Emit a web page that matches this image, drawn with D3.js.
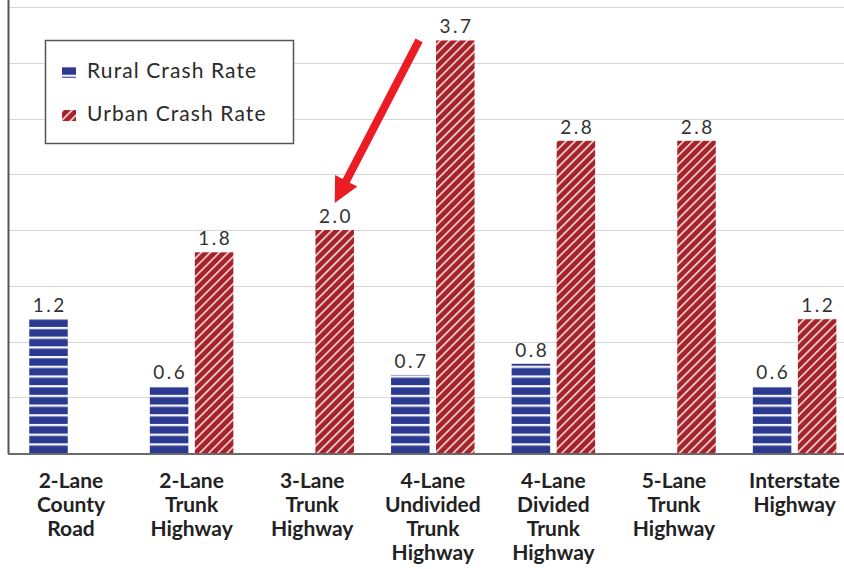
<!DOCTYPE html>
<html>
<head>
<meta charset="utf-8">
<script src="https://cdn.jsdelivr.net/npm/d3@7"></script>
<style>
  body { margin: 0; background: #fff; }
  svg { display: block; }
</style>
</head>
<body>
<script>
// crash rate by road type, rural vs urban
const categories = ["2-Lane County Road", "2-Lane Trunk Highway", "3-Lane Trunk Highway",
  "4-Lane Undivided Trunk Highway", "4-Lane Divided Trunk Highway", "5-Lane Trunk Highway", "Interstate Highway"];
const categoryLines = [
  ["2-Lane", "County", "Road"],
  ["2-Lane", "Trunk", "Highway"],
  ["3-Lane", "Trunk", "Highway"],
  ["4-Lane", "Undivided", "Trunk", "Highway"],
  ["4-Lane", "Divided", "Trunk", "Highway"],
  ["5-Lane", "Trunk", "Highway"],
  ["Interstate", "Highway"]
];
const seriesNames = ["Rural Crash Rate", "Urban Crash Rate"];
const ruralRates = [1.2, 0.6, null, 0.7, 0.8, null, 0.6];
const urbanRates = [null, 1.8, 2.0, 3.7, 2.8, 2.8, 1.2];
const gridValues = [0.5, 1, 1.5, 2, 2.5, 3, 3.5, 4];

const width = 844, height = 569;
const blue = "#2c3991", red = "#a5232d";

const svg = d3.select("body").append("svg")
  .attr("width", width)
  .attr("height", height);

const x = d3.scaleBand().domain(categories).range([10.7, 854.9]).padding(0);
const sub = d3.scaleBand().domain(["rural", "urban"]).range([-41.75, 41.75]).paddingInner(0.1444);
const y = d3.scaleLinear().domain([0, 4]).range([453, 7]);

// stripe patterns
const defs = svg.append("defs");
const rp = defs.append("pattern")
  .attr("id", "rural-stripes")
  .attr("patternUnits", "userSpaceOnUse")
  .attr("width", 10).attr("height", 9.7)
  .attr("y", y(0));
rp.append("rect").attr("width", 10).attr("height", 9.7).attr("fill", blue);
rp.append("rect").attr("width", 10).attr("height", 2.3).attr("fill", "#f4f4fa");

const up = defs.append("pattern")
  .attr("id", "urban-stripes")
  .attr("patternUnits", "userSpaceOnUse")
  .attr("width", 6.4).attr("height", 6.4)
  .attr("patternTransform", "rotate(45)");
up.append("rect").attr("width", 6.4).attr("height", 6.4).attr("fill", red);
up.append("rect").attr("width", 1.6).attr("height", 6.4).attr("fill", "#f6ddd6");

// gridlines
svg.append("g")
  .selectAll("line")
  .data(gridValues)
  .enter().append("line")
  .attr("x1", 8).attr("x2", width)
  .attr("y1", d => Math.round(y(d)) + 0.5)
  .attr("y2", d => Math.round(y(d)) + 0.5)
  .attr("stroke", "#d6d6d6")
  .attr("stroke-width", 1);

// bars
const barData = [];
categories.forEach((c, i) => {
  if (ruralRates[i] != null) barData.push({ cat: c, key: "rural", value: ruralRates[i] });
  if (urbanRates[i] != null) barData.push({ cat: c, key: "urban", value: urbanRates[i] });
});
const barX = d => x(d.cat) + x.bandwidth() / 2 + sub(d.key);

svg.append("g")
  .selectAll("rect")
  .data(barData)
  .enter().append("rect")
  .attr("x", barX)
  .attr("y", d => y(d.value))
  .attr("width", sub.bandwidth())
  .attr("height", d => y(0) - y(d.value))
  .attr("fill", d => d.key === "rural" ? "url(#rural-stripes)" : "url(#urban-stripes)");

// value labels
const valueSpacing = 2.5;
svg.append("g")
  .selectAll("text")
  .data(barData)
  .enter().append("text")
  .attr("x", d => barX(d) + sub.bandwidth() / 2)
  .attr("y", d => y(d.value) - 7)
  .attr("dx", valueSpacing / 2)
  .attr("text-anchor", "middle")
  .attr("font-family", "Lato, sans-serif")
  .attr("font-size", 19)
  .attr("letter-spacing", valueSpacing)
  .attr("fill", "#333")
  .text(d => d3.format(".1f")(d.value));

// axes lines
svg.append("line")
  .attr("x1", 8.5).attr("x2", 8.5)
  .attr("y1", 0).attr("y2", y(0) + 1)
  .attr("stroke", "#555").attr("stroke-width", 2);
svg.append("line")
  .attr("x1", 8).attr("x2", width)
  .attr("y1", y(0) + 1).attr("y2", y(0) + 1)
  .attr("stroke", "#6a6a6a").attr("stroke-width", 2);

// category labels
svg.append("g")
  .selectAll("text")
  .data(categories)
  .enter().append("text")
  .attr("x", d => x(d) + x.bandwidth() / 2)
  .attr("y", 488)
  .attr("text-anchor", "middle")
  .attr("font-family", "Lato, sans-serif")
  .attr("font-weight", "bold")
  .attr("font-size", 21)
  .attr("fill", "#222")
  .each(function(d, i) {
    categoryLines[i].forEach((line, j) => {
      d3.select(this).append("tspan")
        .attr("x", x(d) + x.bandwidth() / 2)
        .attr("dy", j === 0 ? 0 : 24)
        .text(line);
    });
  });

// legend
const legend = svg.append("g");
legend.append("rect")
  .attr("x", 45.5).attr("y", 40.5)
  .attr("width", 248).attr("height", 103)
  .attr("fill", "#fff")
  .attr("stroke", "#555")
  .attr("stroke-width", 1.5);
seriesNames.forEach((name, i) => {
  const yy = 78 + i * 43;
  legend.append("rect")
    .attr("x", 62).attr("y", yy - 11)
    .attr("width", 14).attr("height", 11)
    .attr("fill", i === 0 ? "url(#rural-stripes)" : "url(#urban-stripes)");
  legend.append("text")
    .attr("x", 87).attr("y", yy)
    .attr("font-family", "Lato, sans-serif")
    .attr("font-size", 21)
    .attr("letter-spacing", 1.1)
    .attr("fill", "#2a2a2a")
    .text(name);
});

// red arrow pointing at the 3-lane urban value
const g3 = categories[2], g4 = categories[3];
const tip = [x(g3) + x.bandwidth() / 2 + sub("urban") + sub.bandwidth() / 2, y(urbanRates[2]) - 27];
const start = [x(g4) + x.bandwidth() / 2 + sub("urban") - 17, y(urbanRates[3])];
const dx = tip[0] - start[0], dy = tip[1] - start[1];
const len = Math.hypot(dx, dy);
const ux = dx / len, uy = dy / len, nx = -uy, ny = ux;
const headLen = 25, headHalf = 12.5, shaftHalf = 4;
const base = [tip[0] - ux * headLen, tip[1] - uy * headLen];
const pts = [
  [start[0] + nx * shaftHalf, start[1] + ny * shaftHalf],
  [base[0] + nx * shaftHalf, base[1] + ny * shaftHalf],
  [base[0] + nx * headHalf, base[1] + ny * headHalf],
  tip,
  [base[0] - nx * headHalf, base[1] - ny * headHalf],
  [base[0] - nx * shaftHalf, base[1] - ny * shaftHalf],
  [start[0] - nx * shaftHalf, start[1] - ny * shaftHalf]
];
svg.append("polygon")
  .attr("points", pts.map(p => p.join(",")).join(" "))
  .attr("fill", "#ec1c24");
</script>
</body>
</html>
